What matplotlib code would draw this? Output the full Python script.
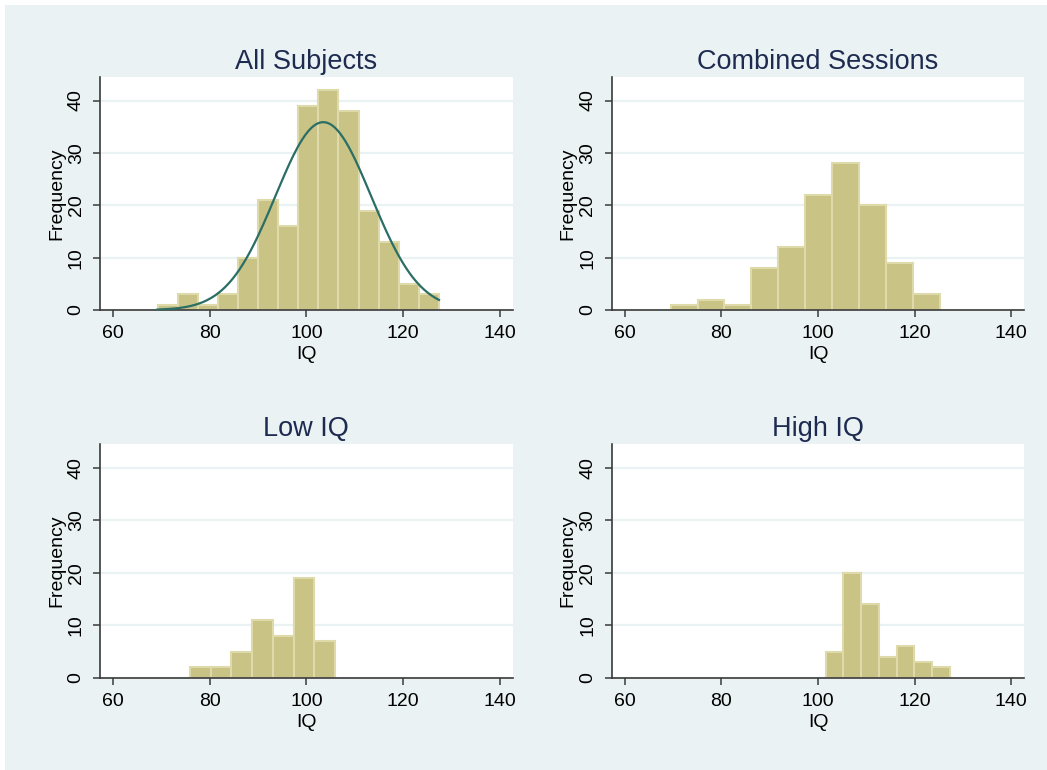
import matplotlib
matplotlib.use('Agg')
import matplotlib.pyplot as plt
import numpy as np
from matplotlib.patches import Rectangle

plt.rcParams['font.family'] = ['Liberation Sans', 'DejaVu Sans']

# 直方图数据 (bin start, bin width, counts)
titles = ['All Subjects', 'Combined Sessions', 'Low IQ', 'High IQ']
bin_start = [69.2, 69.5, 75.9, 101.6]
bin_width = [4.16, 5.57, 4.29, 3.67]
counts_all = [1, 3, 1, 3, 10, 21, 16, 39, 42, 38, 19, 13, 5, 3]
counts_combined = [1, 2, 1, 8, 12, 22, 28, 20, 9, 3]
counts_low = [2, 2, 5, 11, 8, 19, 7]
counts_high = [5, 20, 14, 4, 6, 3, 2]
all_counts = [counts_all, counts_combined, counts_low, counts_high]

# normal curve on first panel
norm_mean = 103.5
norm_sd = 9.9

xticks = [60, 80, 100, 120, 140]
yticks = [0, 10, 20, 30, 40]

bg = '#eaf2f3'
bar_face = '#cac386'
bar_edge = '#dedaa9'
curve_col = '#2b6e66'
title_col = '#1e2b50'
axis_col = '#3a3a3a'

W, H = 1047, 770
fig = plt.figure(figsize=(W / 100, H / 100), dpi=100)
fig.patch.set_facecolor('white')
fig.patches.append(Rectangle((5 / W, 0), 1 - 5 / W, 1 - 5 / H, transform=fig.transFigure,
                             facecolor=bg, edgecolor='none', zorder=-10))

# axes boxes in pixels: left, right, top, bottom
boxes = [(100, 512.7, 77, 310), (611.7, 1024.3, 77, 310),
         (100, 512.7, 444, 678), (611.7, 1024.3, 444, 678)]

for i in range(4):
    l, r, t, b = boxes[i]
    ax = fig.add_axes([l / W, 1 - b / H, (r - l) / W, (b - t) / H])
    ax.set_facecolor('white')
    cnt = all_counts[i]
    lefts = bin_start[i] + bin_width[i] * np.arange(len(cnt))
    ax.bar(lefts, cnt, width=bin_width[i], align='edge', color=bar_face,
           edgecolor=bar_edge, linewidth=1.5, zorder=2)
    if i == 0:
        xs = np.linspace(bin_start[0], bin_start[0] + bin_width[0] * len(cnt), 300)
        scale = sum(cnt) * bin_width[0] / (norm_sd * np.sqrt(2 * np.pi))
        ys = scale * np.exp(-0.5 * ((xs - norm_mean) / norm_sd) ** 2)
        ax.plot(xs, ys, color=curve_col, linewidth=1.6, zorder=3)
    ax.set_xlim(57.3, 142.7)
    ax.set_ylim(0, 44.5)
    ax.set_xticks(xticks)
    ax.set_yticks(yticks)
    ax.set_yticklabels([str(v) for v in yticks], rotation=90, va='center')
    ax.grid(axis='y', color=bg, linewidth=1.6, zorder=0)
    ax.set_axisbelow(True)
    for s in ['top', 'right']:
        ax.spines[s].set_visible(False)
    for s in ['left', 'bottom']:
        ax.spines[s].set_color(axis_col)
        ax.spines[s].set_linewidth(1.2)
    ax.tick_params(axis='both', direction='out', length=5, width=1.1, color=axis_col,
                   labelsize=14, labelcolor='black', pad=6)
    ax.set_title(titles[i], fontsize=19.5, color=title_col, pad=6)
    ax.set_xlabel('IQ', fontsize=14, labelpad=3)
    ax.set_ylabel('Frequency', fontsize=14, labelpad=2)

fig.savefig('out.png', dpi=100, facecolor=fig.get_facecolor())
